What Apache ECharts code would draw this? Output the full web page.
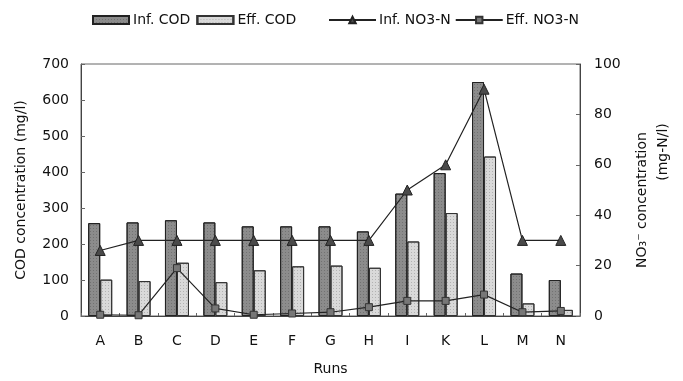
<!DOCTYPE html>
<html>
<head>
<meta charset="utf-8">
<script src="https://cdn.jsdelivr.net/npm/echarts@6/dist/echarts.min.js"></script>
<style>
  html, body { margin: 0; padding: 0; background: #fff; }
  #chart { width: 683px; height: 381px; }
</style>
</head>
<body>
<div id="chart"></div>
<script>
// 数据
const runs = ['A', 'B', 'C', 'D', 'E', 'F', 'G', 'H', 'I', 'K', 'L', 'M', 'N']
const infCOD = [258, 260, 266, 260, 249, 249, 249, 235, 340, 397, 650, 118, 100]
const effCOD = [101, 97, 148, 94, 127, 138, 140, 134, 207, 286, 443, 35, 17]
const infNO3 = [26, 30, 30, 30, 30, 30, 30, 30, 50, 60, 90, 30, 30]
const effNO3 = [0.5, 0.3, 19, 3, 0.5, 1, 1.5, 3.5, 6, 6, 8.5, 1.5, 2]
const codTicks = [0, 100, 200, 300, 400, 500, 600, 700]
const no3Ticks = [0, 20, 40, 60, 80, 100]

const font = 'DejaVu Sans, sans-serif'

let myChart = echarts.init(document.getElementById('chart'))

// 柱子的斑点纹理
const speckle = {
  symbol: 'rect',
  symbolSize: 1,
  color: 'rgba(0,0,0,0.18)',
  dashArrayX: [1, 2],
  dashArrayY: [1, 2]
}

myChart.setOption({
  animation: false,
  aria: { enabled: false },
  legend: [
    { // 柱状图例
      data: [
        { name: 'Inf. COD', icon: 'rect' },
        { name: 'Eff. COD', icon: 'rect' }
      ],
      left: 87,
      top: 8,
      itemWidth: 36,
      itemHeight: 8,
      itemGap: 6,
      textStyle: { fontFamily: font, fontSize: 14, color: '#111', padding: [0, 0, 0, -1] }
    },
    { // 折线图例
      data: ['Inf. NO3-N', 'Eff. NO3-N'],
      left: 323,
      top: 8,
      itemWidth: 47,
      itemHeight: 8,
      itemGap: 4,
      textStyle: { fontFamily: font, fontSize: 14, color: '#111', padding: [0, 0, 0, -2] }
    }
  ],
  grid: {
    left: 81,
    right: 103,
    top: 64,
    bottom: 64,
    show: true,
    borderColor: '#666',
    borderWidth: 1
  },
  xAxis: {
    type: 'category',
    data: runs,
    name: 'Runs',
    nameLocation: 'middle',
    nameGap: 46,
    nameTextStyle: { fontFamily: font, fontSize: 14, color: '#111' },
    axisLine: { lineStyle: { color: '#444' } },
    axisTick: { show: true, inside: true, length: 3, lineStyle: { color: '#666' } },
    axisLabel: { fontFamily: font, fontSize: 14, color: '#111', margin: 18 }
  },
  yAxis: [
    { // 左侧纵坐标
      type: 'value',
      min: codTicks[0],
      max: codTicks[codTicks.length - 1],
      interval: 100,
      name: 'COD concentration (mg/l)',
      nameLocation: 'middle',
      nameGap: 53,
      nameTextStyle: { fontFamily: font, fontSize: 14, color: '#111' },
      axisLine: { show: true, lineStyle: { color: '#444' } },
      axisTick: { show: true, inside: true, length: 4, lineStyle: { color: '#666' } },
      axisLabel: { fontFamily: font, fontSize: 14, color: '#111', margin: 12 },
      splitLine: { show: false }
    },
    { // 右侧纵坐标
      type: 'value',
      min: no3Ticks[0],
      max: no3Ticks[no3Ticks.length - 1],
      interval: 20,
      name: '{a|NO\u2083\u207B concentration}\n{b|(mg-N/l)}',
      nameLocation: 'middle',
      nameGap: 52,
      nameRotate: 90,
      nameTextStyle: {
        fontFamily: font,
        fontSize: 14,
        color: '#111',
        lineHeight: 21,
        rich: {
          a: { fontFamily: font, fontSize: 14, color: '#111', lineHeight: 21, padding: [0, 20, 0, 0] },
          b: { fontFamily: font, fontSize: 14, color: '#111', lineHeight: 21, padding: [0, 0, 0, 76] }
        }
      },
      axisLine: { show: true, lineStyle: { color: '#444' } },
      axisTick: { show: true, inside: true, length: 4, lineStyle: { color: '#666' } },
      axisLabel: { fontFamily: font, fontSize: 14, color: '#111', margin: 14 },
      splitLine: { show: false }
    }
  ],
  series: [
    {
      name: 'Inf. COD',
      type: 'bar',
      data: infCOD,
      barWidth: 12,
      barGap: '0%',
      itemStyle: { color: '#8c8c8c', borderColor: '#222', borderWidth: 1, decal: speckle }
    },
    {
      name: 'Eff. COD',
      type: 'bar',
      data: effCOD,
      barWidth: 12,
      barGap: '0%',
      itemStyle: { color: '#d9d9d9', borderColor: '#333', borderWidth: 1, decal: speckle }
    },
    {
      name: 'Inf. NO3-N',
      type: 'line',
      yAxisIndex: 1,
      data: infNO3,
      symbol: 'triangle',
      symbolSize: 10,
      itemStyle: { color: '#4a4a4a', borderColor: '#222', borderWidth: 1 },
      lineStyle: { color: '#222', width: 1.2 }
    },
    {
      name: 'Eff. NO3-N',
      type: 'line',
      yAxisIndex: 1,
      data: effNO3,
      symbol: 'rect',
      symbolSize: 7,
      itemStyle: { color: '#777', borderColor: '#333', borderWidth: 1 },
      lineStyle: { color: '#222', width: 1.2 }
    }
  ]
})

window.addEventListener('resize', function () {
  myChart.resize()
})
</script>
</body>
</html>
